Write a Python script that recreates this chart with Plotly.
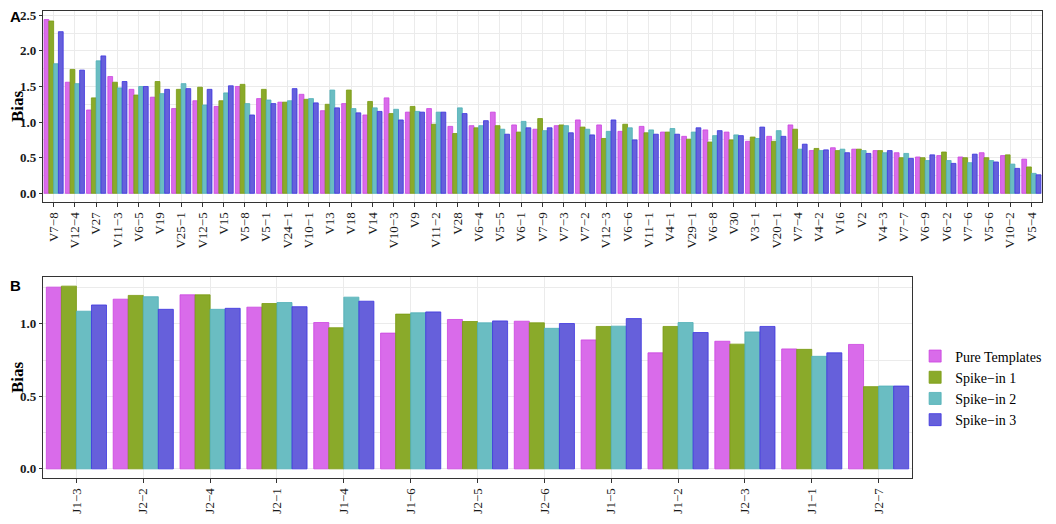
import plotly.graph_objects as go

# categories for panel A (V genes) and panel B (J genes)
v_genes = ["V7−8", "V12−4", "V27", "V11−3", "V6−5", "V19", "V25−1", "V12−5", "V15", "V5−8",
           "V5−1", "V24−1", "V10−1", "V13", "V18", "V14", "V10−3", "V9", "V11−2", "V28",
           "V6−4", "V5−5", "V6−1", "V7−9", "V7−3", "V7−2", "V12−3", "V6−6", "V11−1", "V4−1",
           "V29−1", "V6−8", "V30", "V3−1", "V20−1", "V7−4", "V4−2", "V16", "V2", "V4−3",
           "V7−7", "V6−9", "V6−2", "V7−6", "V5−6", "V10−2", "V5−4"]

v_pure = [2.44, 1.56, 1.17, 1.64, 1.46, 1.35, 1.19, 1.30, 1.22, 1.50,
          1.33, 1.28, 1.39, 1.16, 1.26, 1.10, 1.34, 1.14, 1.19, 0.94,
          0.95, 1.14, 0.96, 0.90, 0.95, 1.03, 0.96, 0.87, 0.94, 0.86,
          0.80, 0.89, 0.86, 0.73, 0.80, 0.96, 0.60, 0.64, 0.62, 0.60,
          0.57, 0.51, 0.53, 0.51, 0.57, 0.53, 0.48]
v_spike1 = [2.42, 1.74, 1.34, 1.56, 1.38, 1.57, 1.46, 1.49, 1.30, 1.53,
            1.46, 1.28, 1.32, 1.25, 1.45, 1.29, 1.12, 1.22, 0.97, 0.84,
            0.92, 0.95, 0.86, 1.05, 0.96, 0.93, 0.77, 0.97, 0.85, 0.86,
            0.76, 0.72, 0.75, 0.79, 0.73, 0.90, 0.63, 0.60, 0.62, 0.60,
            0.50, 0.50, 0.58, 0.50, 0.50, 0.54, 0.37]
v_spike2 = [1.82, 1.54, 1.86, 1.48, 1.50, 1.40, 1.54, 1.24, 1.41, 1.26,
            1.31, 1.30, 1.33, 1.45, 1.19, 1.20, 1.18, 1.15, 1.14, 1.20,
            0.95, 0.90, 1.01, 0.88, 0.95, 0.90, 0.87, 0.92, 0.89, 0.91,
            0.86, 0.81, 0.82, 0.77, 0.88, 0.62, 0.60, 0.62, 0.60, 0.57,
            0.56, 0.46, 0.46, 0.43, 0.46, 0.41, 0.28]
v_spike3 = [2.27, 1.73, 1.93, 1.57, 1.50, 1.46, 1.47, 1.46, 1.51, 1.10,
            1.26, 1.47, 1.27, 1.20, 1.13, 1.15, 1.03, 1.14, 1.14, 1.12,
            1.02, 0.83, 0.92, 0.92, 0.85, 0.82, 1.03, 0.75, 0.83, 0.83,
            0.92, 0.88, 0.81, 0.93, 0.80, 0.69, 0.61, 0.57, 0.56, 0.60,
            0.49, 0.54, 0.42, 0.55, 0.44, 0.35, 0.26]

j_genes = ["J1−3", "J2−2", "J2−4", "J2−1", "J1−4", "J1−6", "J2−5", "J2−6", "J1−5",
           "J1−2", "J2−3", "J1−1", "J2−7"]
j_pure = [1.253, 1.17, 1.20, 1.115, 1.009, 0.936, 1.03, 1.018, 0.889, 0.80, 0.88, 0.827, 0.858]
j_spike1 = [1.26, 1.196, 1.20, 1.14, 0.973, 1.067, 1.016, 1.007, 0.982, 0.982, 0.86, 0.824, 0.567]
j_spike2 = [1.087, 1.187, 1.10, 1.147, 1.184, 1.076, 1.007, 0.969, 0.984, 1.009, 0.944, 0.776, 0.571]
j_spike3 = [1.13, 1.10, 1.107, 1.118, 1.156, 1.082, 1.02, 1.002, 1.036, 0.94, 0.982, 0.80, 0.571]

series_names = ["Pure Templates", "Spike−in 1", "Spike−in 2", "Spike−in 3"]
fills = ["#D96BEA", "#8AAA2A", "#6ABDC2", "#6660DB"]
edges = ["#CC44E0", "#7A9A10", "#4FB0B8", "#3C34E0"]

serif = "Liberation Serif, Times New Roman, serif"

fig = go.Figure()

# panel A bars
for name, vals, fc, ec in zip(series_names, [v_pure, v_spike1, v_spike2, v_spike3], fills, edges):
    fig.add_trace(go.Bar(x=v_genes, y=vals, name=name, marker=dict(color=fc, line=dict(color=ec, width=0.8)),
                         xaxis="x", yaxis="y", showlegend=False))

# panel B bars (these carry the legend)
for name, vals, fc, ec in zip(series_names, [j_pure, j_spike1, j_spike2, j_spike3], fills, edges):
    fig.add_trace(go.Bar(x=j_genes, y=vals, name=name, marker=dict(color=fc, line=dict(color=ec, width=0.8)),
                         xaxis="x2", yaxis="y2"))

# shared axis styling
xstyle = dict(type="category", showline=True, mirror=True, linecolor="#333333", linewidth=1.2,
              showgrid=True, gridcolor="#EBEBEB", gridwidth=1.2, ticks="outside", ticklen=4,
              tickcolor="#333333", tickangle=-90, tickfont=dict(family=serif, size=13, color="#1a1a1a"),
              automargin=False)
ystyle = dict(showline=True, mirror=True, linecolor="#333333", linewidth=1.2, zeroline=False,
              showgrid=True, gridcolor="#EBEBEB", gridwidth=1.2, ticks="outside", ticklen=3,
              tickcolor="#333333", tickfont=dict(family=serif, size=13, color="#1a1a1a", weight="bold"),
              title=dict(text="Bias", font=dict(family=serif, size=17, color="black", weight="bold"), standoff=9),
              tickformat=".1f", dtick=0.5, ticklabeloverflow="allow",
              minor=dict(dtick=0.25, showgrid=True, gridcolor="#EBEBEB", gridwidth=0.8),
              automargin=False)

# page has an 8px body margin, so the figure is sized to fit inside it
fig.update_layout(
    width=1040, height=508,
    margin=dict(l=35, r=6, t=1, b=38),
    paper_bgcolor="white", plot_bgcolor="white",
    barmode="group", bargap=0.1, bargroupgap=0,
    xaxis=dict(xstyle, domain=[0, 1], anchor="y"),
    yaxis=dict(ystyle, domain=[0.5885, 0.9957], range=[-0.122, 2.56], anchor="x"),
    xaxis2=dict(xstyle, domain=[0, 0.8699], anchor="y2"),
    yaxis2=dict(ystyle, domain=[0, 0.4286], range=[-0.063, 1.323], anchor="x2"),
    legend=dict(x=0.873, y=0.192, xanchor="left", yanchor="middle", bgcolor="rgba(0,0,0,0)",
                font=dict(family=serif, size=14, color="black"), tracegroupgap=4),
    showlegend=True,
)

# panel letters
fig.add_annotation(text="<b>A</b>", x=-0.035, y=0.985, xref="paper", yref="paper", showarrow=False,
                   xanchor="left", yanchor="middle", font=dict(family="Liberation Sans, Arial", size=15, color="black"))
fig.add_annotation(text="<b>B</b>", x=-0.035, y=0.4115, xref="paper", yref="paper", showarrow=False,
                   xanchor="left", yanchor="middle", font=dict(family="Liberation Sans, Arial", size=15, color="black"))

fig.write_html("out.html")
